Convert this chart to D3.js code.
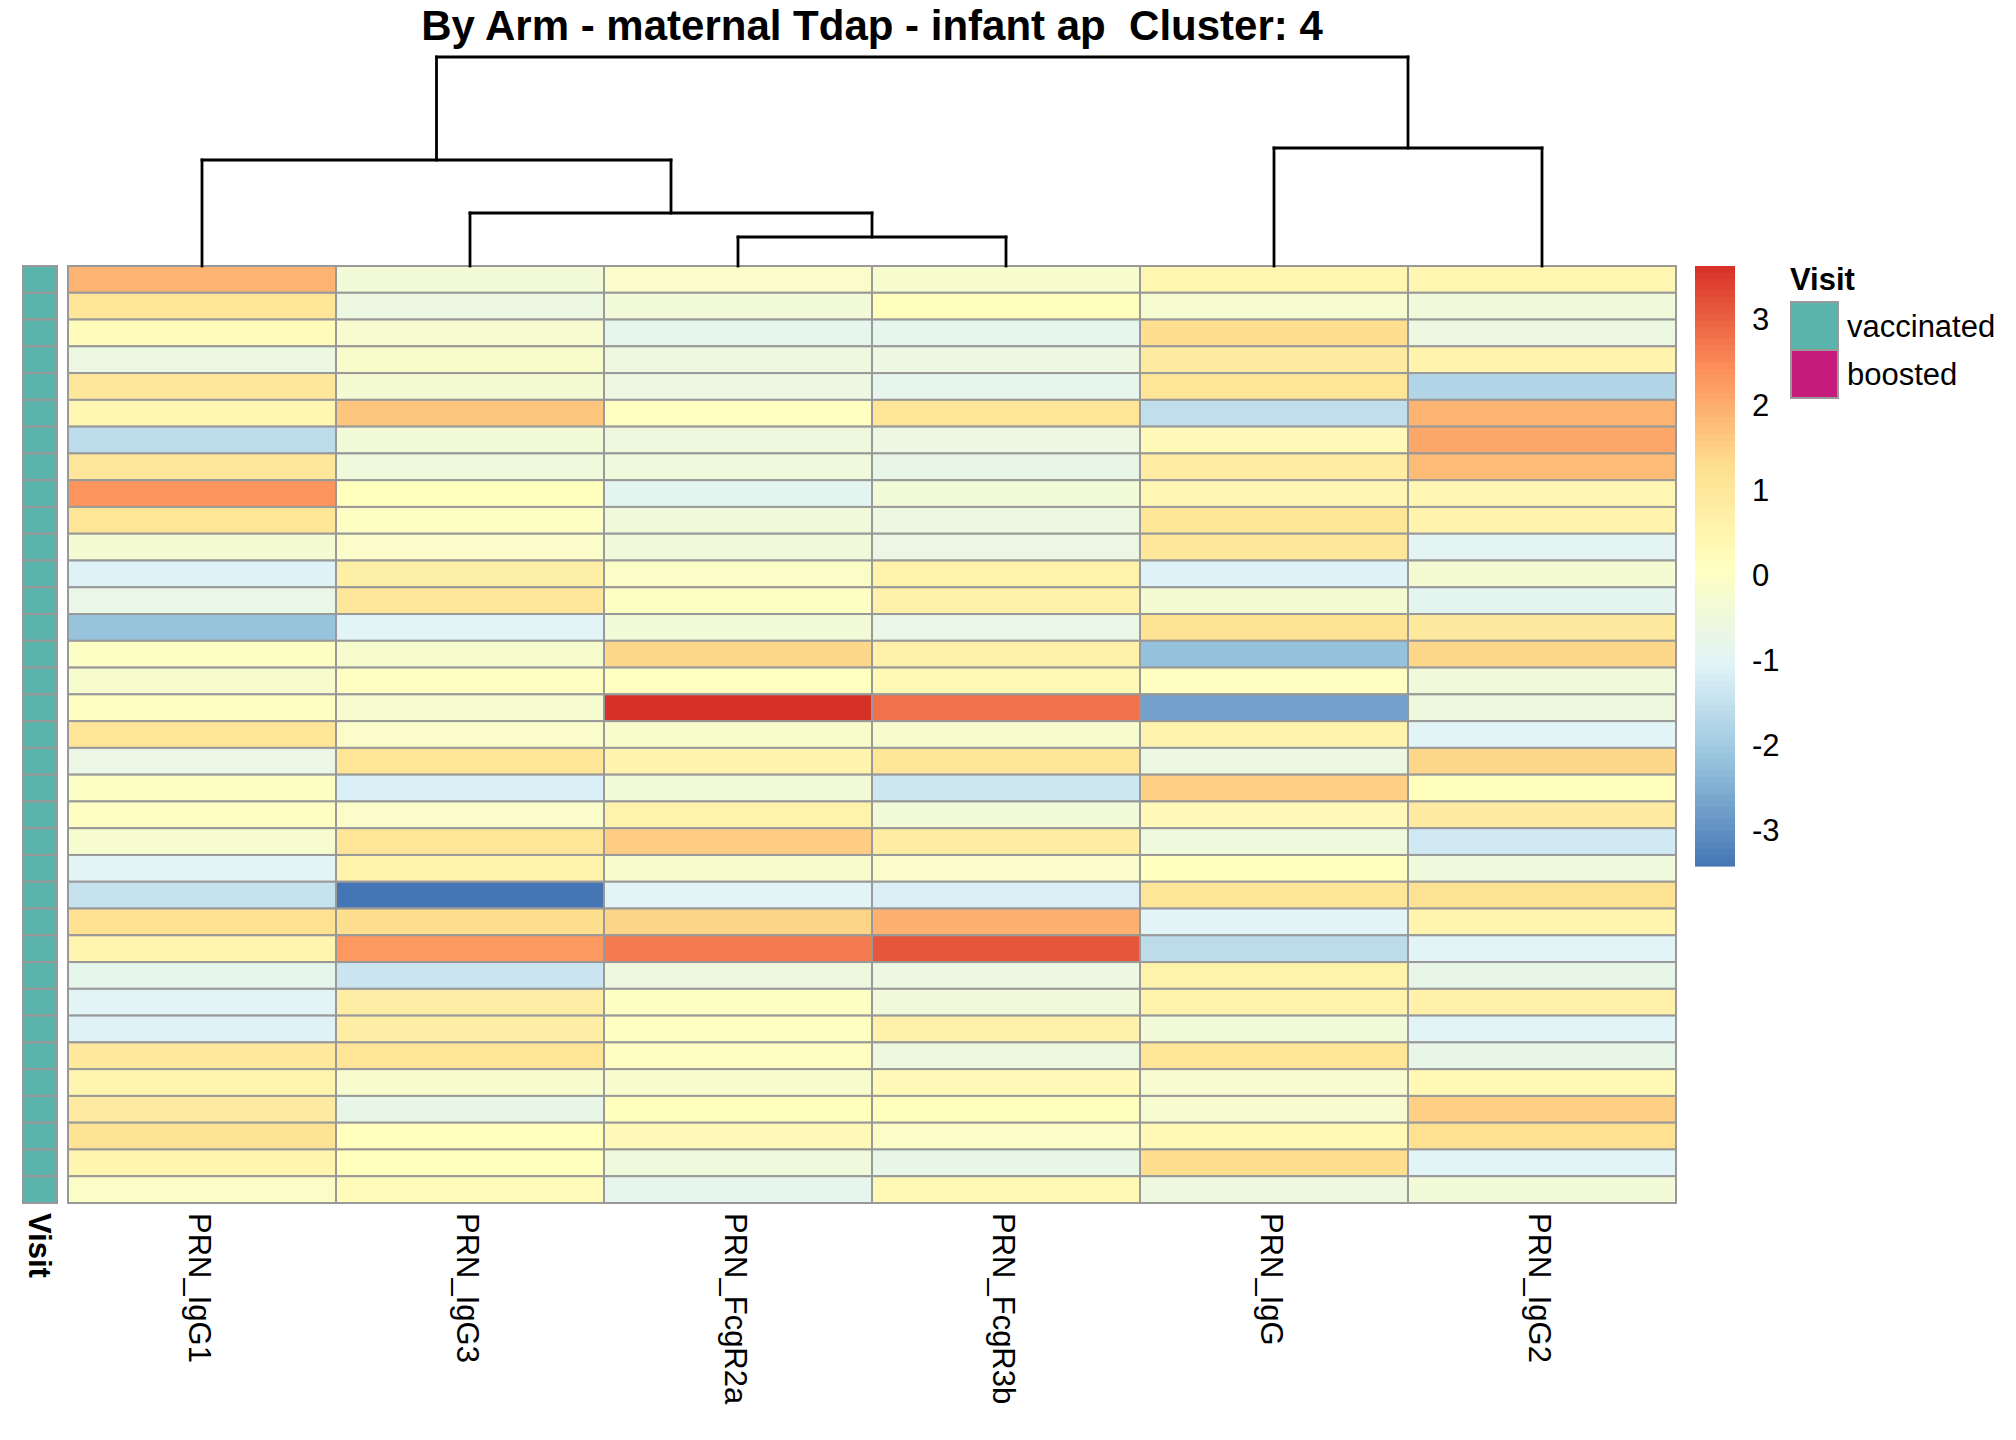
<!DOCTYPE html>
<html>
<head>
<meta charset="utf-8">
<script src="https://cdn.jsdelivr.net/npm/d3@7"></script>
<style>
  body { margin: 0; background: #fff; }
  text { font-family: "Liberation Sans", Arial, sans-serif; }
</style>
</head>
<body>
<div id="chart"></div>
<script>
// column order as drawn (after clustering)
const columns = ["PRN_IgG1", "PRN_IgG3", "PRN_FcgR2a", "PRN_FcgR3b", "PRN_IgG", "PRN_IgG2"];

// scaled values per column, 35 samples top -> bottom
const PRN_IgG1 = [1.9, 1.1, 0.2, -0.6, 1.0, 0.45, -1.6, 1.0, 2.35, 1.1, -0.3, -1.1, -0.7, -2.15, 0.0, -0.2, 0.05, 1.1, -0.65, 0.0, 0.05, -0.25, -1.0, -1.45, 1.25, 0.5, -0.8, -1.0, -1.1, 0.95, 0.5, 0.85, 1.15, 0.5, -0.05];
const PRN_IgG3 = [-0.4, -0.6, -0.25, -0.15, -0.3, 1.65, -0.4, -0.5, 0.12, 0.0, -0.1, 0.7, 1.0, -1.0, -0.2, 0.05, -0.25, -0.1, 1.1, -1.15, -0.1, 1.1, 0.6, -3.42, 1.3, 2.3, -1.4, 0.75, 0.75, 1.1, -0.2, -0.75, 0.12, 0.12, 0.2];
const PRN_FcgR2a = [-0.1, -0.4, -0.85, -0.55, -0.6, 0.1, -0.55, -0.5, -0.9, -0.45, -0.45, -0.05, 0.0, -0.4, 1.4, 0.1, 3.63, -0.15, 0.55, -0.4, 0.6, 1.55, -0.2, -1.0, 1.45, 2.7, -0.55, 0.0, 0.05, 0.05, -0.2, 0.15, 0.3, -0.5, -0.85];
const PRN_FcgR3b = [-0.2, 0.15, -0.85, -0.6, -0.85, 1.1, -0.6, -0.75, -0.4, -0.6, -0.65, 0.6, 0.65, -0.7, 0.65, 0.35, 2.8, -0.2, 1.05, -1.35, -0.4, 0.8, -0.1, -1.15, 1.95, 3.15, -0.6, -0.45, 0.65, -0.55, 0.3, 0.15, -0.05, -0.75, 0.35];
const PRN_IgG = [0.45, -0.25, 1.3, 0.85, 1.1, -1.55, 0.3, 0.8, 0.4, 1.05, 1.0, -1.1, -0.3, 1.15, -2.2, 0.05, -2.7, 0.55, -0.6, 1.5, 0.3, -0.5, 0.12, 1.05, -1.0, -1.6, 0.6, 0.6, -0.4, 1.1, -0.25, -0.25, 0.35, 1.3, -0.55];
const PRN_IgG2 = [0.45, -0.45, -0.6, 0.55, -1.75, 1.9, 2.1, 1.8, 0.4, 0.55, -0.95, -0.3, -0.9, 0.9, 1.4, -0.45, -0.55, -1.0, 1.4, 0.15, 0.85, -1.3, -0.5, 1.2, 0.5, -1.0, -0.75, 0.65, -1.0, -0.75, 0.35, 1.5, 1.25, -1.0, -0.4];
const series = [PRN_IgG1, PRN_IgG3, PRN_FcgR2a, PRN_FcgR3b, PRN_IgG, PRN_IgG2];

// row annotation
const visit = ["vaccinated", "vaccinated", "vaccinated", "vaccinated", "vaccinated", "vaccinated", "vaccinated",
  "vaccinated", "vaccinated", "vaccinated", "vaccinated", "vaccinated", "vaccinated", "vaccinated",
  "vaccinated", "vaccinated", "vaccinated", "vaccinated", "vaccinated", "vaccinated", "vaccinated",
  "vaccinated", "vaccinated", "vaccinated", "vaccinated", "vaccinated", "vaccinated", "vaccinated",
  "vaccinated", "vaccinated", "vaccinated", "vaccinated", "vaccinated", "vaccinated", "vaccinated"];
const visitLevels = ["vaccinated", "boosted"];
const visitColors = ["#5AB4AC", "#C51B7D"];

// column dendrogram (merge heights)
const colTree = {
  h: 2.09, children: [
    { h: 1.06, children: [
      { name: "PRN_IgG1" },
      { h: 0.53, children: [
        { name: "PRN_IgG3" },
        { h: 0.29, children: [{ name: "PRN_FcgR2a" }, { name: "PRN_FcgR3b" }] }
      ] }
    ] },
    { h: 1.18, children: [{ name: "PRN_IgG" }, { name: "PRN_IgG2" }] }
  ]
};

const legendTicks = [3, 2, 1, 0, -1, -2, -3];
const title = "By Arm - maternal Tdap - infant ap  Cluster: 4";

const config = {
  width: 2016, height: 1440,
  hm: { left: 68, top: 266, right: 1676, bottom: 1203 },
  annX: 23, annW: 34,
  treeTop: 57,
  bar: { x: 1695, w: 40 },
  legX: 1790, boxW: 47, boxH: 48, legTop: 302,
  font: 31,
  border: "#999999"
};

const svg = d3.select("#chart").append("svg")
  .attr("width", config.width)
  .attr("height", config.height);

const nRows = visit.length;
const x = d3.scaleBand().domain(columns).range([config.hm.left, config.hm.right]);
const y = d3.scaleBand().domain(d3.range(nRows)).range([config.hm.top, config.hm.bottom]);

// colour: reversed RdYlBu(7) spread over the data range
const all = series.flat();
const [vmin, vmax] = d3.extent(all);
const palette = ["#4575B4", "#91BFDB", "#E0F3F8", "#FFFFBF", "#FEE090", "#FC8D59", "#D73027"];
const color = d3.scaleLinear()
  .domain(d3.range(7).map(i => vmin + i * (vmax - vmin) / 6))
  .range(palette)
  .interpolate(d3.interpolateRgb);

// cells
const cells = [];
series.forEach((s, j) => s.forEach((v, i) => cells.push({ col: columns[j], row: i, v })));
svg.append("g").selectAll("rect")
  .data(cells)
  .join("rect")
  .attr("x", d => x(d.col))
  .attr("y", d => y(d.row))
  .attr("width", x.bandwidth())
  .attr("height", y.bandwidth())
  .attr("fill", d => color(d.v))
  .attr("stroke", config.border)
  .attr("stroke-width", 2);

// row annotation column
const visitColor = d3.scaleOrdinal().domain(visitLevels).range(visitColors);
svg.append("g").selectAll("rect")
  .data(visit)
  .join("rect")
  .attr("x", config.annX)
  .attr("y", (d, i) => y(i))
  .attr("width", config.annW)
  .attr("height", y.bandwidth())
  .attr("fill", d => visitColor(d))
  .attr("stroke", config.border)
  .attr("stroke-width", 2);

// dendrogram
const root = d3.hierarchy(colTree);
const hScale = d3.scaleLinear().domain([0, colTree.h]).range([config.hm.top, config.treeTop]);
root.eachAfter(n => {
  if (!n.children) {
    n.px = x(n.data.name) + x.bandwidth() / 2;
    n.py = hScale(0);
  } else {
    n.px = d3.mean(n.children, c => c.px);
    n.py = hScale(n.data.h);
  }
});
const segs = [];
root.each(n => {
  if (!n.children) return;
  const [a, b] = n.children;
  segs.push([a.px, a.py, a.px, n.py]);
  segs.push([a.px, n.py, b.px, n.py]);
  segs.push([b.px, n.py, b.px, b.py]);
});
svg.append("g").selectAll("line")
  .data(segs)
  .join("line")
  .attr("x1", d => d[0]).attr("y1", d => d[1])
  .attr("x2", d => d[2]).attr("y2", d => d[3])
  .attr("stroke", "#000")
  .attr("stroke-width", 2.8)
  .attr("stroke-linecap", "square");

// title
svg.append("text")
  .attr("x", (config.hm.left + config.hm.right) / 2)
  .attr("y", 40)
  .attr("text-anchor", "middle")
  .attr("font-weight", "bold")
  .attr("font-size", 42)
  .style("white-space", "pre")
  .text(title);

// column labels
svg.append("g").selectAll("text")
  .data(columns)
  .join("text")
  .attr("transform", d => `translate(${x(d) + x.bandwidth() / 2 - 2}, ${config.hm.bottom + 10}) rotate(90)`)
  .attr("dy", "0.35em")
  .attr("font-size", config.font)
  .text(d => d);

svg.append("text")
  .attr("transform", `translate(${config.annX + config.annW / 2}, ${config.hm.bottom + 10}) rotate(90)`)
  .attr("dy", "0.35em")
  .attr("font-size", config.font)
  .attr("font-weight", "bold")
  .text("Visit");

// colour bar legend
const barY = d3.scaleLinear().domain([vmin, vmax]).range([866, config.hm.top]);
const steps = d3.range(100).map(i => vmin + (i + 0.5) * (vmax - vmin) / 100);
const stepH = (barY(vmin) - barY(vmax)) / 100;
svg.append("g").selectAll("rect")
  .data(steps)
  .join("rect")
  .attr("x", config.bar.x)
  .attr("y", d => barY(d) - stepH / 2)
  .attr("width", config.bar.w)
  .attr("height", stepH + 0.6)
  .attr("fill", d => color(d));

svg.append("g").selectAll("text")
  .data(legendTicks)
  .join("text")
  .attr("x", 1752)
  .attr("y", d => barY(d))
  .attr("dy", "0.35em")
  .attr("font-size", config.font)
  .text(d => d < 0 ? "-" + Math.abs(d) : d);

// annotation legend
const leg = svg.append("g");
leg.append("text")
  .attr("x", config.legX)
  .attr("y", 290)
  .attr("font-weight", "bold")
  .attr("font-size", 31)
  .text("Visit");
leg.selectAll("rect")
  .data(visitLevels)
  .join("rect")
  .attr("x", config.legX + 1)
  .attr("y", (d, i) => config.legTop + i * config.boxH)
  .attr("width", config.boxW)
  .attr("height", config.boxH)
  .attr("fill", d => visitColor(d))
  .attr("stroke", config.border)
  .attr("stroke-width", 2);
leg.selectAll("text.lab")
  .data(visitLevels)
  .join("text")
  .attr("class", "lab")
  .attr("x", 1847)
  .attr("y", (d, i) => config.legTop + (i + 0.5) * config.boxH)
  .attr("dy", "0.35em")
  .attr("font-size", config.font)
  .text(d => d);
</script>
</body>
</html>
